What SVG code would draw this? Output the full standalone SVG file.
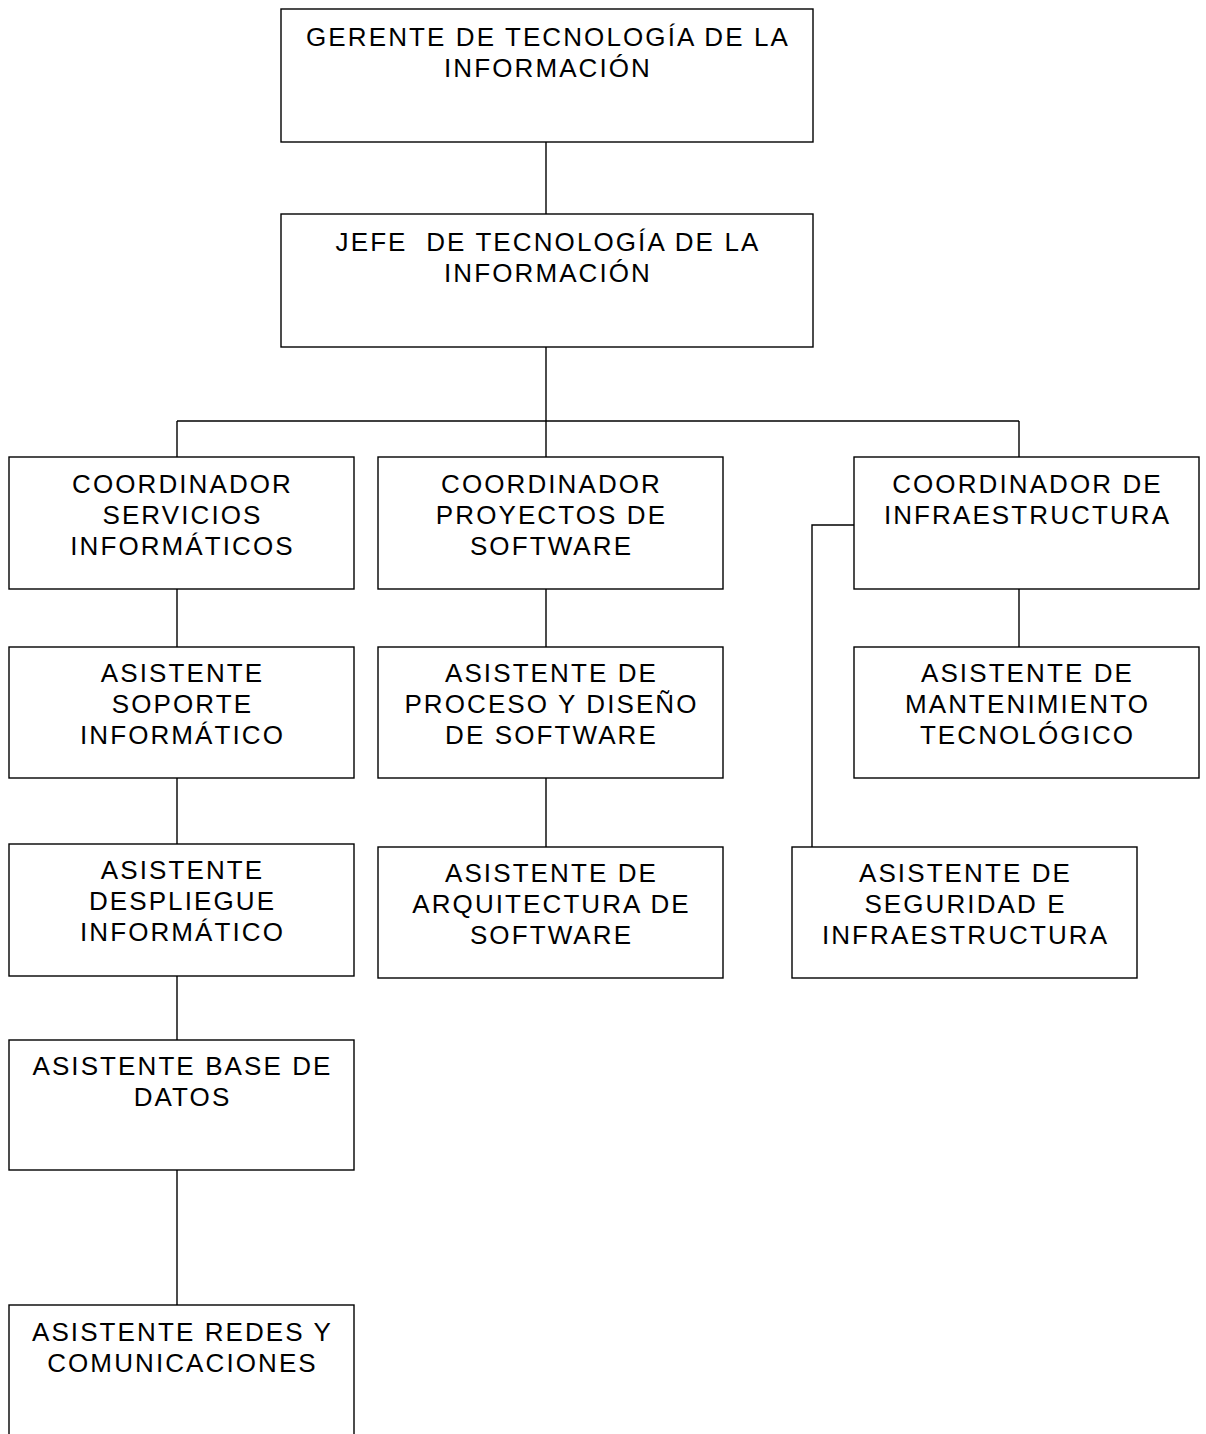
<svg xmlns="http://www.w3.org/2000/svg" width="1206" height="1434" viewBox="0 0 1206 1434">
<style>
.box{fill:#fff;stroke:#000;stroke-width:1.4}
.t{font-family:"Liberation Sans",Arial,sans-serif;font-size:26px;letter-spacing:2.1px;fill:#000;text-anchor:middle}
.c{fill:none;stroke:#000;stroke-width:1.4}
</style>
<rect width="1206" height="1434" fill="#fff"/>
<g id="connectors">
<path class="c" d="M546,142V214"/>
<path class="c" d="M546,347V421"/>
<path class="c" d="M177,421H1019"/>
<path class="c" d="M177,421V457M546,421V457M1019,421V457"/>
<path class="c" d="M177,589V647M177,778V844M177,976V1040M177,1170V1305"/>
<path class="c" d="M546,589V647M546,778V847"/>
<path class="c" d="M1019,589V647"/>
<path class="c" d="M854,525H812V847"/>
</g>
<g id="gerente">
<rect class="box" x="281" y="9" width="532" height="133"/>
<text class="t" x="548" y="46">GERENTE DE TECNOLOGÍA DE LA</text>
<text class="t" x="548" y="77">INFORMACIÓN</text>
</g>
<g id="jefe">
<rect class="box" x="281" y="214" width="532" height="133"/>
<text class="t" x="548" y="251" xml:space="preserve">JEFE  DE TECNOLOGÍA DE LA</text>
<text class="t" x="548" y="282">INFORMACIÓN</text>
</g>
<g id="coord-servicios">
<rect class="box" x="9" y="457" width="345" height="132"/>
<text class="t" x="182.5" y="493">COORDINADOR</text>
<text class="t" x="182.5" y="524">SERVICIOS</text>
<text class="t" x="182.5" y="555">INFORMÁTICOS</text>
</g>
<g id="coord-proyectos">
<rect class="box" x="378" y="457" width="345" height="132"/>
<text class="t" x="551.5" y="493">COORDINADOR</text>
<text class="t" x="551.5" y="524">PROYECTOS DE</text>
<text class="t" x="551.5" y="555">SOFTWARE</text>
</g>
<g id="coord-infra">
<rect class="box" x="854" y="457" width="345" height="132"/>
<text class="t" x="1027.5" y="493">COORDINADOR DE</text>
<text class="t" x="1027.5" y="524">INFRAESTRUCTURA</text>
</g>
<g id="asis-soporte">
<rect class="box" x="9" y="647" width="345" height="131"/>
<text class="t" x="182.5" y="682">ASISTENTE</text>
<text class="t" x="182.5" y="713">SOPORTE</text>
<text class="t" x="182.5" y="744">INFORMÁTICO</text>
</g>
<g id="asis-proceso">
<rect class="box" x="378" y="647" width="345" height="131"/>
<text class="t" x="551.5" y="682">ASISTENTE DE</text>
<text class="t" x="551.5" y="713">PROCESO Y DISEÑO</text>
<text class="t" x="551.5" y="744">DE SOFTWARE</text>
</g>
<g id="asis-mantenimiento">
<rect class="box" x="854" y="647" width="345" height="131"/>
<text class="t" x="1027.5" y="682">ASISTENTE DE</text>
<text class="t" x="1027.5" y="713">MANTENIMIENTO</text>
<text class="t" x="1027.5" y="744">TECNOLÓGICO</text>
</g>
<g id="asis-despliegue">
<rect class="box" x="9" y="844" width="345" height="132"/>
<text class="t" x="182.5" y="879">ASISTENTE</text>
<text class="t" x="182.5" y="910">DESPLIEGUE</text>
<text class="t" x="182.5" y="941">INFORMÁTICO</text>
</g>
<g id="asis-arquitectura">
<rect class="box" x="378" y="847" width="345" height="131"/>
<text class="t" x="551.5" y="882">ASISTENTE DE</text>
<text class="t" x="551.5" y="913">ARQUITECTURA DE</text>
<text class="t" x="551.5" y="944">SOFTWARE</text>
</g>
<g id="asis-seguridad">
<rect class="box" x="792" y="847" width="345" height="131"/>
<text class="t" x="965.5" y="882">ASISTENTE DE</text>
<text class="t" x="965.5" y="913">SEGURIDAD E</text>
<text class="t" x="965.5" y="944">INFRAESTRUCTURA</text>
</g>
<g id="asis-bd">
<rect class="box" x="9" y="1040" width="345" height="130"/>
<text class="t" x="182.5" y="1075">ASISTENTE BASE DE</text>
<text class="t" x="182.5" y="1106">DATOS</text>
</g>
<g id="asis-redes">
<rect class="box" x="9" y="1305" width="345" height="140"/>
<text class="t" x="182.5" y="1341">ASISTENTE REDES Y</text>
<text class="t" x="182.5" y="1372">COMUNICACIONES</text>
</g>
</svg>
